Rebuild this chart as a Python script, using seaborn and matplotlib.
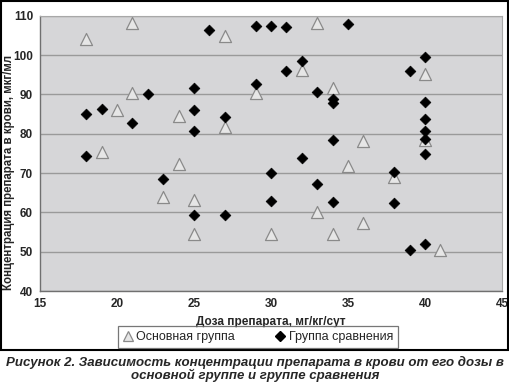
import pandas as pd
import matplotlib
matplotlib.use("Agg")
import matplotlib.pyplot as plt
import seaborn as sns
from matplotlib.lines import Line2D
from matplotlib.patches import Rectangle

# Основная группа (triangles)
main_dose = [18, 21, 21, 20, 19, 24, 27, 27, 29, 33, 32, 40, 34, 36, 40,
             24, 23, 25, 25, 35, 38, 33, 36, 30, 34, 41]
main_conc = [104.2, 108.2, 90.4, 86.0, 75.3, 84.4, 104.8, 81.7, 90.4, 108.2, 96.3, 95.3, 91.5, 78.1, 78.4,
             72.2, 63.8, 63.2, 54.5, 71.9, 68.9, 60.0, 57.4, 54.6, 54.5, 50.4]

# Группа сравнения (diamonds)
comp_dose = [18, 19, 21, 22, 18, 25, 25, 25, 26, 27, 29, 29, 30, 31, 35, 40, 32, 31, 39, 33,
             34, 34, 40, 40, 40, 40, 34, 40, 32, 23, 25, 27, 30, 38, 33, 30, 34, 38, 39, 40]
comp_conc = [85.0, 86.2, 82.7, 90.0, 74.2, 91.5, 86.1, 80.8, 106.3, 84.2, 107.4, 92.6, 107.4, 107.0, 107.8,
             99.5, 98.4, 96.0, 96.0, 90.5, 88.9, 87.9, 88.0, 83.7, 80.6, 78.7, 78.3, 74.9, 73.9, 68.5,
             59.3, 59.3, 70.0, 70.2, 67.2, 62.8, 62.7, 62.4, 50.5, 51.9]

labels = ["Основная группа", "Группа сравнения"]

main_df = pd.DataFrame({"dose": main_dose, "conc": main_conc})
comp_df = pd.DataFrame({"dose": comp_dose, "conc": comp_conc})

sns.set_theme(style="white")
plt.rcParams["font.family"] = ["Liberation Sans", "DejaVu Sans"]

fig = plt.figure(figsize=(5.1, 3.83), dpi=100)
ax = fig.add_axes([40 / 510, 1 - 291 / 383, 462 / 510, 275.3 / 383])
ax.set_facecolor("#d6d6d8")

sns.scatterplot(data=comp_df, x="dose", y="conc", marker="D", s=30, color="black",
                edgecolor="black", linewidth=0.5, ax=ax, zorder=3)
sns.scatterplot(data=main_df, x="dose", y="conc", marker="^", s=75, color="#e6e6e6",
                edgecolor="#8a8a8a", linewidth=0.9, ax=ax, zorder=2)

ax.set_xlim(15, 45)
ax.set_ylim(40, 110)
ax.set_xticks(range(15, 50, 5))
ax.set_yticks(range(40, 120, 10))
ax.yaxis.grid(True, color="#9a9a9a", linewidth=1.0)
ax.set_axisbelow(True)
for side in ["left", "bottom"]:
    ax.spines[side].set_color("#707070")
    ax.spines[side].set_linewidth(1.0)
for side in ["top", "right"]:
    ax.spines[side].set_color("#a8a8a8")
    ax.spines[side].set_linewidth(0.8)
ax.tick_params(axis="both", direction="out", length=4, width=0.8, color="#707070",
               labelsize=8.5, pad=1)
for lbl in ax.get_xticklabels() + ax.get_yticklabels():
    lbl.set_fontweight("bold")

ax.set_xlabel("Доза препарата, мг/кг/сут", fontsize=8.5, fontweight="bold", labelpad=4)
ax.set_ylabel("Концентрация препарата в крови, мкг/мл", fontsize=8.3, fontweight="bold")
ax.yaxis.set_label_coords(-25 / 462, 0.43)

handles = [
    Line2D([], [], linestyle="none", marker="^", markersize=7, markerfacecolor="#e6e6e6",
           markeredgecolor="#8a8a8a", markeredgewidth=0.9),
    Line2D([], [], linestyle="none", marker="D", markersize=5, markerfacecolor="black",
           markeredgecolor="black"),
]
leg = fig.legend(handles, labels, loc="center", bbox_to_anchor=(258 / 510, 1 - 337 / 383),
                 ncol=2, fontsize=9, frameon=True, fancybox=False, handlelength=0.8,
                 handletextpad=0.3, columnspacing=3.2, borderpad=0.4)
leg.get_frame().set_edgecolor("#555555")
leg.get_frame().set_linewidth(0.9)

fig.patches.append(Rectangle((0.002, 1 - 350 / 383), 0.994, 350 / 383 - 0.003,
                             transform=fig.transFigure, fill=False, edgecolor="black",
                             linewidth=1.5))

fig.text(0.5, 1 - 369 / 383,
         "Рисунок 2. Зависимость концентрации препарата в крови от его дозы в\nосновной группе и группе сравнения",
         ha="center", va="center", fontsize=9.5, fontweight="bold", style="italic",
         linespacing=1.05)

fig.savefig("out.png", dpi=100)
